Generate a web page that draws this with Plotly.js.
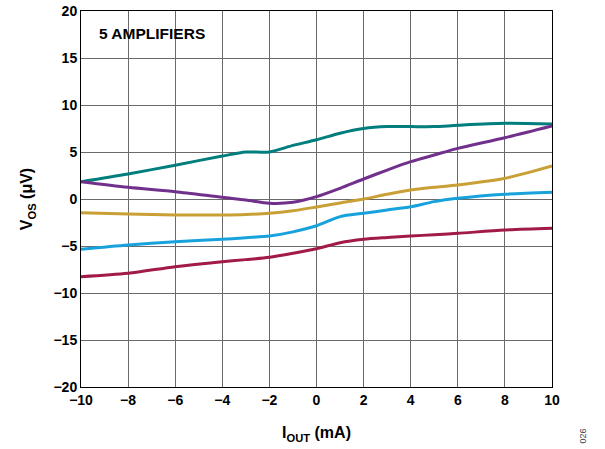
<!DOCTYPE html>
<html><head><meta charset="utf-8">
<script src="https://cdn.plot.ly/plotly-3.0.1.min.js"></script>
<style>html,body{margin:0;padding:0;background:#fff}#chart{width:605px;height:449px}</style>
</head><body><div id="chart"></div>
<script>
var iout = [-10,-8,-6,-4,-3,-2,-1,0,1,2,3,4,5,6,8,10];
var tealVos   = [1.84,2.66,3.6,4.57,5.0,5.0,5.7,6.3,7.0,7.5,7.7,7.7,7.7,7.84,8.05,7.98];
var purpleVos = [1.84,1.24,0.78,0.18,-0.1,-0.45,-0.35,0.25,1.14,2.13,3.08,3.97,4.68,5.39,6.52,7.77];
var goldVos   = [-1.45,-1.6,-1.7,-1.7,-1.65,-1.52,-1.25,-0.85,-0.42,0.0,0.5,0.96,1.25,1.49,2.2,3.51];
var blueVos   = [-5.35,-4.89,-4.54,-4.29,-4.12,-3.94,-3.5,-2.85,-1.88,-1.52,-1.17,-0.82,-0.28,0.07,0.5,0.71];
var redVos    = [-8.26,-7.9,-7.2,-6.67,-6.45,-6.2,-5.78,-5.3,-4.65,-4.29,-4.1,-3.94,-3.8,-3.65,-3.3,-3.12];
var colors = {teal:'#007d7d', purple:'#71308c', gold:'#c8a035', blue:'#17a2dc', red:'#a21a46'};
var xTicks = [-10,-8,-6,-4,-2,0,2,4,6,8,10];
var xTickText = ['\u221210','\u22128','\u22126','\u22124','\u22122','0','2','4','6','8','10'];
var yTicks = [-20,-15,-10,-5,0,5,10,15,20];
var yTickText = ['\u221220','\u221215','\u221210','\u22125','0','5','10','15','20'];

function tr(y, c){ return {x:iout, y:y, mode:'lines', line:{color:c, width:3, shape:'spline', smoothing:0.8}, hoverinfo:'skip', showlegend:false}; }
var data = [tr(tealVos,colors.teal), tr(purpleVos,colors.purple), tr(goldVos,colors.gold), tr(blueVos,colors.blue), tr(redVos,colors.red)];
var fontF = 'Liberation Sans, Arial, sans-serif';
var layout = {
  width:605, height:449,
  margin:{l:81, r:53, t:11, b:62},
  paper_bgcolor:'#fff', plot_bgcolor:'#fff',
  font:{family:fontF, color:'#000'},
  xaxis:{range:[-10,10], tickvals:xTicks, ticktext:xTickText, showgrid:true, gridcolor:'#6a6a6a', gridwidth:1,
    zeroline:false, showline:true, linecolor:'#000', linewidth:1, mirror:true, ticks:'',
    tickfont:{size:14, family:fontF, weight:'bold'},
    title:{text:'I<sub>OUT</sub> (mA)', font:{size:16, family:fontF, weight:'bold'}, standoff:20}},
  yaxis:{range:[-20,20], tickvals:yTicks, ticktext:yTickText, showgrid:true, gridcolor:'#6a6a6a', gridwidth:1,
    zeroline:false, showline:true, linecolor:'#000', linewidth:1, mirror:true, ticks:'',
    tickfont:{size:14, family:fontF, weight:'bold'},
    title:{text:'V<sub>OS</sub> (\u03bcV)', font:{size:16, family:fontF, weight:'bold'}, standoff:16}},
  annotations:[
    {text:'<b>5 AMPLIFIERS</b>', xref:'paper', yref:'paper', x:0.034, y:0.94, xanchor:'left', yanchor:'middle', showarrow:false, font:{size:15.5, family:fontF, color:'#000'}},
    {text:'026', xref:'paper', yref:'paper', x:1.065, y:-0.13, textangle:-90, showarrow:false, xanchor:'center', yanchor:'middle', font:{size:9, family:fontF, color:'#444'}}
  ]
};
Plotly.newPlot('chart', data, layout, {staticPlot:true, displayModeBar:false});
</script></body></html>
